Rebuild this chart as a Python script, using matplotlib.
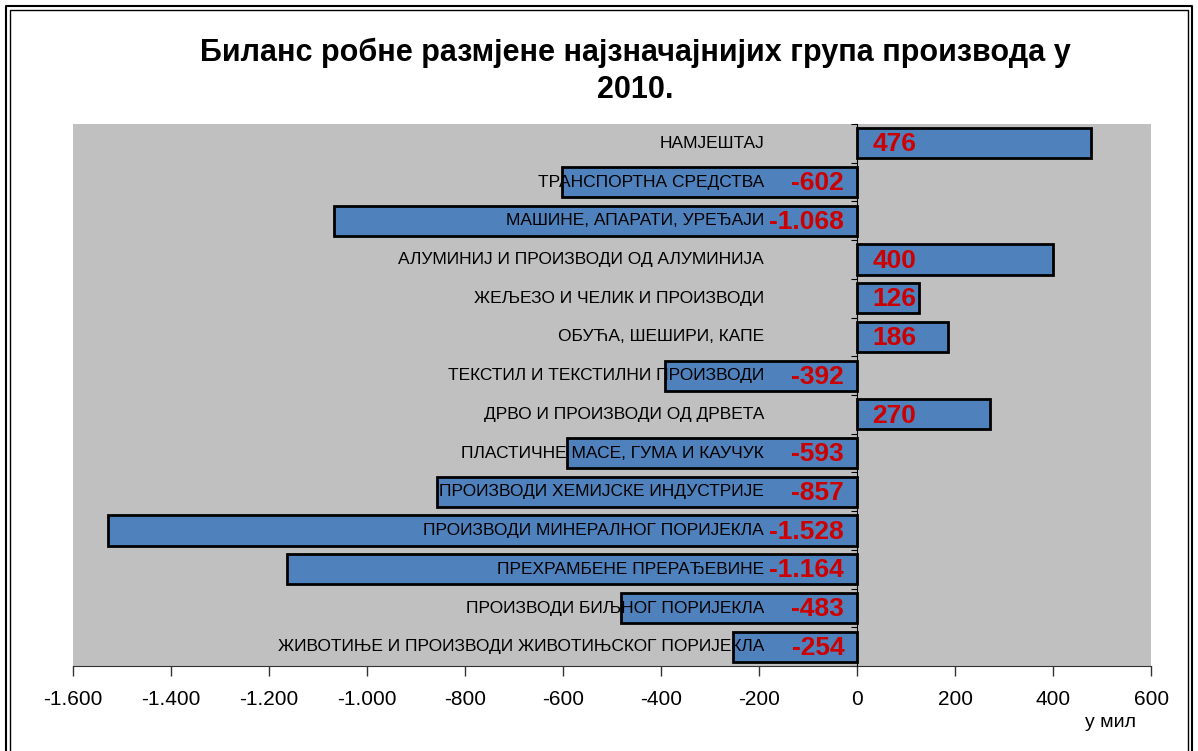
import matplotlib.pyplot as plt
import matplotlib.transforms as mtransforms
from matplotlib.lines import Line2D

categories = [
    "НАМЈЕШТАЈ",
    "ТРАНСПОРТНА СРЕДСТВА",
    "МАШИНЕ, АПАРАТИ, УРЕЂАЈИ",
    "АЛУМИНИЈ И ПРОИЗВОДИ ОД АЛУМИНИЈА",
    "ЖЕЉЕЗО И ЧЕЛИК И ПРОИЗВОДИ",
    "ОБУЋА, ШЕШИРИ, КАПЕ",
    "ТЕКСТИЛ И ТЕКСТИЛНИ ПРОИЗВОДИ",
    "ДРВО И ПРОИЗВОДИ ОД ДРВЕТА",
    "ПЛАСТИЧНЕ МАСЕ, ГУМА И КАУЧУК",
    "ПРОИЗВОДИ ХЕМИЈСКЕ ИНДУСТРИЈЕ",
    "ПРОИЗВОДИ МИНЕРАЛНОГ ПОРИЈЕКЛА",
    "ПРЕХРАМБЕНЕ ПРЕРАЂЕВИНЕ",
    "ПРОИЗВОДИ БИЉНОГ ПОРИЈЕКЛА",
    "ЖИВОТИЊЕ И ПРОИЗВОДИ ЖИВОТИЊСКОГ ПОРИЈЕКЛА",
]
balance = [476, -602, -1068, 400, 126, 186, -392, 270, -593, -857, -1528, -1164, -483, -254]
x_ticks = [-1600, -1400, -1200, -1000, -800, -600, -400, -200, 0, 200, 400, 600]


def fmt(v):
    return f"{v:,}".replace(",", ".")


def main() -> None:
    plt.rcParams["font.family"] = ["Liberation Sans", "DejaVu Sans"]
    fig = plt.figure(figsize=(11.98, 7.51), dpi=100)
    ax = fig.add_axes([0.061, 0.113, 0.9, 0.722])
    ax.set_facecolor("#C0C0C0")

    ypos = list(range(len(categories)))
    ax.barh(ypos, balance, height=0.78, color="#4F81BD", edgecolor="black", linewidth=2, zorder=2)

    ax.set_xlim(-1600, 600)
    ax.set_ylim(len(categories) - 0.5, -0.5)
    ax.set_xticks(x_ticks)
    ax.set_xticklabels([fmt(t) for t in x_ticks], fontsize=15)
    ax.tick_params(axis="x", length=7, width=1, color="#333333", pad=10)

    # category axis at zero
    ax.spines["left"].set_position(("data", 0))
    ax.spines["left"].set_zorder(3)
    ax.spines["top"].set_visible(False)
    ax.spines["right"].set_visible(False)
    ax.spines["bottom"].set_color("#333333")
    ax.set_yticks([i + 0.5 for i in range(-1, len(categories))])
    ax.set_yticklabels([])
    ax.tick_params(axis="y", length=4, direction="out")

    lab_tr = mtransforms.offset_copy(ax.transData, fig=fig, x=-93, y=0, units="dots")
    neg_tr = mtransforms.offset_copy(ax.transData, fig=fig, x=-13, y=0, units="dots")
    pos_tr = mtransforms.offset_copy(ax.transData, fig=fig, x=15, y=0, units="dots")
    for i, (name, v) in enumerate(zip(categories, balance)):
        ax.text(0, i, name, transform=lab_tr, ha="right", va="center", fontsize=12.5, zorder=4)
        if v < 0:
            ax.text(0, i + 0.03, fmt(v), transform=neg_tr, ha="right", va="center",
                    fontsize=19, fontweight="bold", color="#CC0000", zorder=5)
        else:
            ax.text(0, i + 0.03, fmt(v), transform=pos_tr, ha="left", va="center",
                    fontsize=19, fontweight="bold", color="#CC0000", zorder=5)

    fig.text(0.53, 0.95, "Биланс робне размјене најзначајнијих група производа у\n2010.",
             ha="center", va="top", fontsize=22, fontweight="bold", linespacing=1.33)
    fig.text(0.927, 0.038, "у мил", ha="center", va="center", fontsize=14)

    # double frame around the chart
    for off in (0.0054, 0.0085):
        yo = off * 1198 / 751
        fig.add_artist(Line2D([off, off, 1 - off, 1 - off], [0, 1 - yo, 1 - yo, 0],
                              color="black", linewidth=1.5 if off < 0.006 else 1))

    fig.savefig("out.png", dpi=100)


if __name__ == "__main__":
    main()
